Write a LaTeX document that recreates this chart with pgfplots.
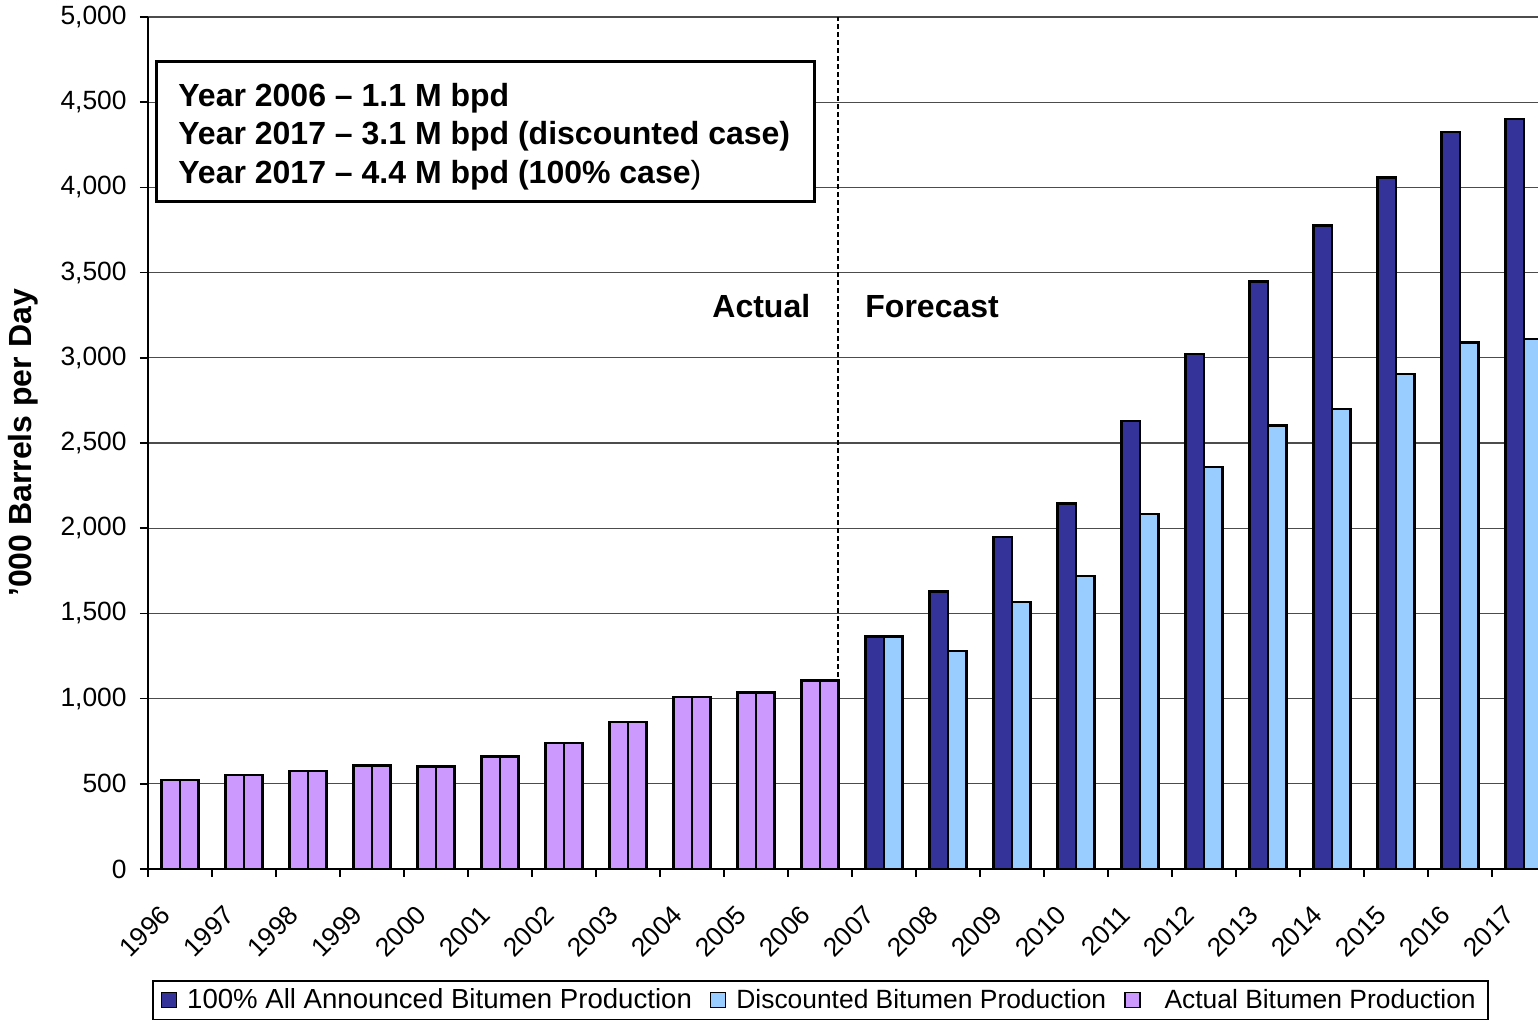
\documentclass[border=0pt]{standalone}
\usepackage{fontspec}
\setmainfont{Liberation Sans}
\usepackage{pgfplots}
\pgfplotsset{compat=1.18}

\definecolor{fullblue}{RGB}{51,51,153}
\definecolor{discblue}{RGB}{153,204,255}
\definecolor{actpurple}{RGB}{204,153,255}

\begin{document}
\begin{tikzpicture}
\begin{scope}
\clip (-74pt,-75.5pt) rectangle (695pt,434.5pt);
\begin{axis}[
  scale only axis, width=704pt, height=426pt,
  xmin=-0.5, xmax=21.5, ymin=0, ymax=5000,
  axis x line=bottom, axis y line=left,
  axis line style={-, line width=0.8pt, black},
  ybar, bar width=9.25pt,
  ytick={0,500,...,5000},
  ymajorgrids, grid style={black!70, line width=0.6pt},
  xtick={-0.5,0.5,...,21.5},
  x tick label as interval,
  xticklabels={1996,1997,1998,1999,2000,2001,2002,2003,2004,2005,2006,2007,2008,2009,2010,2011,2012,2013,2014,2015,2016,2017},
  tick align=outside, major tick length=4pt,
  tick style={black, line width=0.8pt},
  ticklabel style={font=\fontsize{13.2}{15}\selectfont},
  yticklabel style={anchor=east, inner sep=0pt, xshift=-6.5pt},
  xticklabel style={xshift=-7pt, yshift=-16.6pt, rotate=45, anchor=east, inner sep=0pt},
  /pgf/number format/.cd, 1000 sep={,}, assume math mode=true,
  /pgfplots/.cd,
  ylabel={'000 Barrels per Day},
  ylabel style={at={(axis description cs:-0.0888,0.5)}, anchor=center, font=\bfseries\fontsize{16}{19}\selectfont},
  legend columns=3,
  legend image code/.code={\draw[#1, line width=0.7pt] (0pt,-3.75pt) rectangle (7.5pt,3.75pt);},
  legend style={at={(0.00284,-0.1303)}, anchor=north west, draw=black, line width=0.8pt,
    font=\fontsize{13.2}{15}\selectfont, inner xsep=4pt, inner ysep=2pt,
    /tikz/every odd column/.append style={column sep=3pt},
    /tikz/every even column/.append style={column sep=7pt}},
]
\addplot[fill=fullblue, draw=black, line width=1.2pt, bar shift=-4.625pt] coordinates {
  (11,1364) (12,1628) (13,1947) (14,2144) (15,2629) (16,3023)
  (17,3447) (18,3776) (19,4057) (20,4324) (21,4402)};
\addlegendentry{\fontsize{13.8}{15}\selectfont 100\% All Announced Bitumen Production}
\addplot[fill=discblue, draw=black, line width=1.2pt, bar shift=4.625pt] coordinates {
  (11,1364) (12,1281) (13,1567) (14,1718) (15,2083) (16,2359)
  (17,2602) (18,2700) (19,2905) (20,3089) (21,3109)};
\addlegendentry{Discounted Bitumen Production}
\addplot[fill=actpurple, draw=black, line width=1.2pt, bar shift=-4.625pt] coordinates {
  (0,521) (1,551) (2,574) (3,607) (4,602) (5,659)
  (6,741) (7,861) (8,1009) (9,1035) (10,1107)};
\addlegendentry{\hspace*{7pt}Actual Bitumen Production}
\addplot[fill=actpurple, draw=black, line width=1.2pt, bar shift=4.625pt, forget plot] coordinates {
  (0,521) (1,551) (2,574) (3,607) (4,602) (5,659)
  (6,741) (7,861) (8,1009) (9,1035) (10,1107)};
\end{axis}
\draw[dash pattern=on 2.5pt off 1.5pt, line width=0.8pt] (345pt,0pt) -- (345pt,426pt);
\draw[line width=1.5pt, fill=white] (4pt,333.5pt) rectangle (333pt,403.5pt);
\begin{scope}[every node/.style={anchor=base west, inner sep=0pt, font=\bfseries\fontsize{16}{19}\selectfont}]
\node at (15pt,381.25pt) {Year 2006 -- 1.1 M bpd};
\node at (15pt,362.25pt) {Year 2017 -- 3.1 M bpd (discounted case)};
\node at (15pt,342.75pt) {Year 2017 -- 4.4 M bpd (100\% case\textmd{)}};
\node at (282pt,275.5pt) {Actual};
\node at (358.5pt,275.5pt) {Forecast};
\end{scope}
\end{scope}
\pgfresetboundingbox
\path[use as bounding box] (-74pt,-75.5pt) rectangle (695pt,434.5pt);
\end{tikzpicture}
\end{document}
